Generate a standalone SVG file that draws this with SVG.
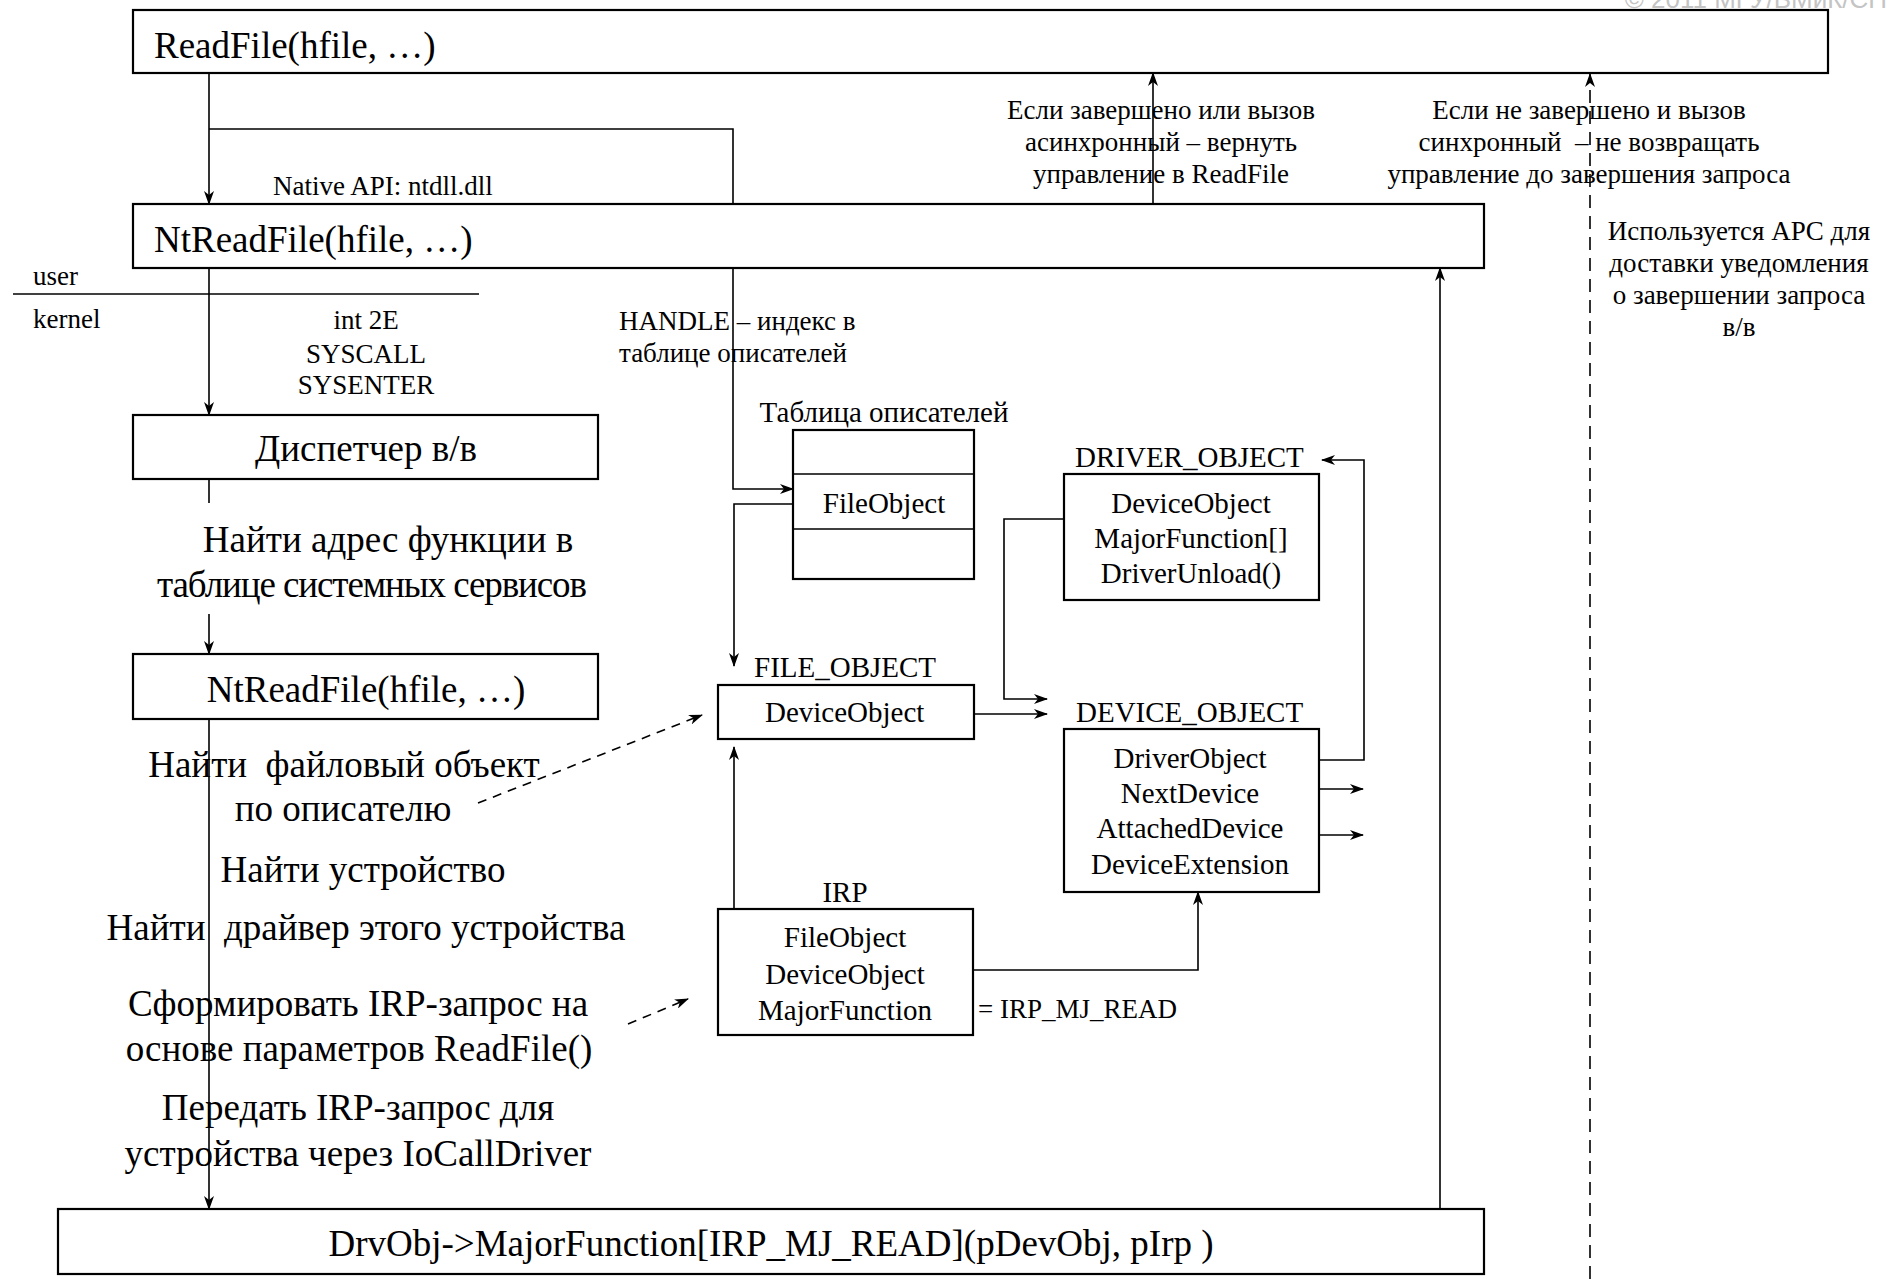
<svg xmlns="http://www.w3.org/2000/svg" width="1887" height="1279" viewBox="0 0 1887 1279">
<defs>
<style>
text{font-family:"Liberation Serif","Times New Roman",serif;fill:#000;white-space:pre}
.b{font-size:37px}
.m{font-size:29px}
.s{font-size:27px}
.c{text-anchor:middle}
.box{fill:#fff;stroke:#000;stroke-width:2.2}
.ln{fill:none;stroke:#000;stroke-width:1.6}
.dash{fill:none;stroke:#000;stroke-width:1.6;stroke-dasharray:9,7}
.vd{fill:none;stroke:#000;stroke-width:1.6;stroke-dasharray:13,8}
.copy{font-family:"Liberation Sans",Arial,sans-serif;font-size:26px;fill:#c4c4c4;text-anchor:end}
</style>
<marker id="ah" viewBox="0 0 14 10" refX="13" refY="5" markerWidth="14" markerHeight="10" markerUnits="userSpaceOnUse" orient="auto">
<path d="M0,0 L14,5 L0,10 L4,5 z" fill="#000"/>
</marker>
</defs>
<rect width="1887" height="1279" fill="#fff"/>
<text class="copy" x="1887" y="8">© 2011 МГУ/ВМиК/СП</text>

<g id="connectors">
<path class="ln" d="M209,73 V204" marker-end="url(#ah)"/>
<path class="ln" d="M209,129 H733 V489 H793" marker-end="url(#ah)"/>
<path class="ln" d="M822,504 H734 V666" marker-end="url(#ah)"/>
<path class="ln" d="M209,268 V415" marker-end="url(#ah)"/>
<path class="ln" d="M209,479 V503"/>
<path class="ln" d="M209,614 V654" marker-end="url(#ah)"/>
<path class="ln" d="M209,719 V1209" marker-end="url(#ah)"/>
<path class="ln" d="M13,294 H479"/>
<path class="ln" d="M943,714 H1047" marker-end="url(#ah)"/>
<path class="ln" d="M1078,519 H1004 V699 H1047" marker-end="url(#ah)"/>
<path class="ln" d="M1272,760 H1364 V460 H1322" marker-end="url(#ah)"/>
<path class="ln" d="M1273,789 H1363" marker-end="url(#ah)"/>
<path class="ln" d="M1289,835 H1363" marker-end="url(#ah)"/>
<path class="ln" d="M763,939 H734 V747" marker-end="url(#ah)"/>
<path class="ln" d="M943,970 H1198 V892" marker-end="url(#ah)"/>
<path class="ln" d="M1440,1209 V268" marker-end="url(#ah)"/>
<path class="ln" d="M1153,204 V73" marker-end="url(#ah)"/>
<path class="vd" d="M1590,1279 V74" marker-end="url(#ah)"/>
<path class="dash" d="M478,803 L702,715" marker-end="url(#ah)"/>
<path class="dash" d="M628,1024 L688,999" marker-end="url(#ah)"/>
</g>

<g id="readfile">
<rect class="box" x="133" y="10" width="1695" height="63"/>
<text class="b" x="154" y="58">ReadFile(hfile, …)</text>
</g>
<g id="ntreadfile-user">
<rect class="box" x="133" y="204" width="1351" height="64"/>
<text class="b" x="154" y="252">NtReadFile(hfile, …)</text>
</g>
<g id="io-manager">
<rect class="box" x="133" y="415" width="465" height="64"/>
<text class="b c" x="366" y="461">Диспетчер в/в</text>
</g>
<g id="ntreadfile-kernel">
<rect class="box" x="133" y="654" width="465" height="65"/>
<text class="b c" x="366" y="702">NtReadFile(hfile, …)</text>
</g>
<g id="dispatch">
<rect class="box" x="58" y="1209" width="1426" height="65"/>
<text class="b c" x="771" y="1256">DrvObj-&gt;MajorFunction[IRP_MJ_READ](pDevObj, pIrp )</text>
</g>
<g id="handle-table">
<text class="m c" x="884" y="422">Таблица описателей</text>
<rect class="box" x="793" y="430" width="181" height="149"/>
<path class="ln" d="M793,474 H974 M793,529 H974" stroke-width="2"/>
<text class="m c" x="884" y="513">FileObject</text>
</g>
<g id="file-object">
<text class="m" x="754" y="677">FILE_OBJECT</text>
<rect class="box" x="718" y="685" width="256" height="54"/>
<text class="m" x="765" y="722">DeviceObject</text>
</g>
<g id="driver-object">
<text class="m" x="1075" y="467">DRIVER_OBJECT</text>
<rect class="box" x="1064" y="474" width="255" height="126"/>
<text class="m c" x="1191" y="513">DeviceObject</text>
<text class="m c" x="1191" y="548">MajorFunction[]</text>
<text class="m c" x="1191" y="583">DriverUnload()</text>
</g>
<g id="device-object">
<text class="m" x="1076" y="722">DEVICE_OBJECT</text>
<rect class="box" x="1064" y="729" width="255" height="163"/>
<text class="m c" x="1190" y="768">DriverObject</text>
<text class="m c" x="1190" y="803">NextDevice</text>
<text class="m c" x="1190" y="838">AttachedDevice</text>
<text class="m c" x="1190" y="874">DeviceExtension</text>
</g>
<g id="irp">
<text class="m c" x="845" y="902">IRP</text>
<rect class="box" x="718" y="909" width="255" height="126"/>
<text class="m c" x="845" y="947">FileObject</text>
<text class="m c" x="845" y="984">DeviceObject</text>
<text class="m c" x="845" y="1020">MajorFunction</text>
<text class="s" x="978" y="1018">= IRP_MJ_READ</text>
</g>

<g id="labels">
<text class="s" x="273" y="195">Native API: ntdll.dll</text>
<text class="s" x="33" y="285">user</text>
<text class="s" x="33" y="328">kernel</text>
<text class="s c" x="366" y="329">int 2E</text>
<text class="s c" x="366" y="363">SYSCALL</text>
<text class="s c" x="366" y="394">SYSENTER</text>
<text class="s" x="619" y="330">HANDLE – индекс в</text>
<text class="s" x="619" y="362">таблице описателей</text>
<text class="s c" x="1161" y="119">Если завершено или вызов</text>
<text class="s c" x="1161" y="151">асинхронный – вернуть</text>
<text class="s c" x="1161" y="183">управление в ReadFile</text>
<text class="s c" x="1589" y="119">Если не завершено и вызов</text>
<text class="s c" x="1589" y="151">синхронный  – не возвращать</text>
<text class="s c" x="1589" y="183">управление до завершения запроса</text>
<text class="s c" x="1739" y="240">Используется APC для</text>
<text class="s c" x="1739" y="272">доставки уведомления</text>
<text class="s c" x="1739" y="304">о завершении запроса</text>
<text class="s c" x="1739" y="336">в/в</text>
<text class="b c" x="388" y="552">Найти адрес функции в</text>
<text class="b c" x="372" y="597" textLength="430" lengthAdjust="spacing">таблице системных сервисов</text>
<text class="b c" x="344" y="777">Найти  файловый объект</text>
<text class="b c" x="343" y="821">по описателю</text>
<text class="b c" x="363" y="882">Найти устройство</text>
<text class="b c" x="366" y="940">Найти  драйвер этого устройства</text>
<text class="b c" x="358" y="1016">Сформировать IRP-запрос на</text>
<text class="b c" x="359" y="1061">основе параметров ReadFile()</text>
<text class="b c" x="358" y="1120">Передать IRP-запрос для</text>
<text class="b c" x="358" y="1166">устройства через IoCallDriver</text>
</g>
</svg>
